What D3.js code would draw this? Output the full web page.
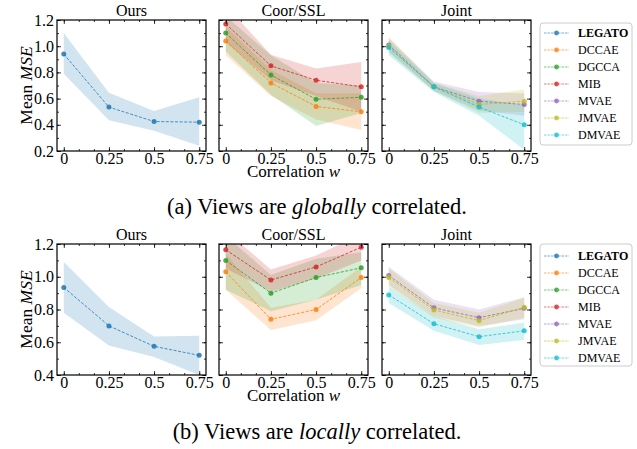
<!DOCTYPE html>
<html>
<head>
<meta charset="utf-8">
<script src="https://cdnjs.cloudflare.com/ajax/libs/d3/7.8.5/d3.min.js"></script>
<style>
  body { margin: 0; background: #fff; }
  svg { font-family: "Liberation Serif", "DejaVu Serif", serif; }
</style>
</head>
<body>
<div id="container"></div>
<script>
/**
 * DATA
 * */
const methods = ["LEGATO", "DCCAE", "DGCCA", "MIB", "MVAE", "JMVAE", "DMVAE"];
const methodColors = ["#1f77b4", "#ff7f0e", "#2ca02c", "#d62728", "#9467bd", "#bcbd22", "#17becf"];
const correlation = [0, 0.25, 0.5, 0.75];
const xTicks = [0, 0.25, 0.5, 0.75];
const xTickLabels = ["0", "0.25", "0.5", "0.75"];
const panelTitles = ["Ours", "Coor/SSL", "Joint"];
const panelMethods = [["LEGATO"], ["DCCAE", "DGCCA", "MIB"], ["MVAE", "JMVAE", "DMVAE"]];

// (a) globally correlated — rows follow `methods`
const globalMean = [
  [0.94, 0.535, 0.425, 0.42],
  [1.04, 0.72, 0.54, 0.50],
  [1.10, 0.78, 0.595, 0.61],
  [1.17, 0.85, 0.74, 0.69],
  [1.01, 0.69, 0.58, 0.555],
  [1.00, 0.69, 0.555, 0.58],
  [0.99, 0.69, 0.535, 0.40]
];
const globalLow = [
  [0.79, 0.435, 0.355, 0.24],
  [0.93, 0.62, 0.44, 0.36],
  [0.96, 0.63, 0.39, 0.49],
  [1.03, 0.74, 0.62, 0.50],
  [0.96, 0.66, 0.51, 0.47],
  [0.95, 0.66, 0.49, 0.50],
  [0.93, 0.65, 0.47, 0.21]
];
const globalHigh = [
  [1.10, 0.645, 0.505, 0.61],
  [1.15, 0.82, 0.64, 0.64],
  [1.23, 0.93, 0.72, 0.70],
  [1.31, 0.935, 0.83, 0.88],
  [1.06, 0.73, 0.65, 0.64],
  [1.07, 0.72, 0.62, 0.67],
  [1.04, 0.72, 0.60, 0.55]
];
const globalYTicks = [0.2, 0.4, 0.6, 0.8, 1.0, 1.2];

// (b) locally correlated
const localMean = [
  [0.935, 0.70, 0.575, 0.52],
  [1.03, 0.74, 0.80, 0.995],
  [1.10, 0.90, 0.995, 1.055],
  [1.165, 0.98, 1.06, 1.18],
  [1.007, 0.81, 0.75, 0.807],
  [0.996, 0.797, 0.732, 0.813],
  [0.889, 0.713, 0.634, 0.67]
];
const localLow = [
  [0.78, 0.58, 0.51, 0.40],
  [0.92, 0.675, 0.735, 0.93],
  [0.92, 0.79, 0.86, 0.95],
  [1.05, 0.91, 0.99, 1.10],
  [0.95, 0.76, 0.70, 0.74],
  [0.94, 0.75, 0.69, 0.75],
  [0.84, 0.67, 0.583, 0.614]
];
const localHigh = [
  [1.09, 0.815, 0.635, 0.64],
  [1.14, 0.81, 0.86, 1.06],
  [1.25, 1.01, 1.11, 1.15],
  [1.28, 1.045, 1.13, 1.26],
  [1.06, 0.86, 0.80, 0.875],
  [1.05, 0.84, 0.78, 0.87],
  [0.94, 0.76, 0.68, 0.72]
];
const localYTicks = [0.4, 0.6, 0.8, 1.0, 1.2];

/**
 * LAYOUT
 * */
const width = 637, height = 449;
const panelX = [57, 219, 382], panelW = 149, panelH = 131;
const rows = [
  { top: 20, domain: [0.2, 1.2], ticks: globalYTicks, mean: globalMean, low: globalLow, high: globalHigh,
    caption: ["(a) Views are ", "globally", " correlated."], capY: 214 },
  { top: 244, domain: [0.4, 1.2], ticks: localYTicks, mean: localMean, low: localLow, high: localHigh,
    caption: ["(b) Views are ", "locally", " correlated."], capY: 439 }
];

const svg = d3.select("#container").append("svg")
  .attr("width", width).attr("height", height);

const x = d3.scaleLinear().domain([-0.0375, 0.7875]).range([0, panelW]);

rows.forEach((row, ri) => {
  const y = d3.scaleLinear().domain(row.domain).range([panelH, 0]);
  const minorY = d3.range(row.domain[0], row.domain[1] + 1e-9, 0.1);
  const minorX = d3.range(0, 0.79, 0.25 / 3);

  panelTitles.forEach((title, pi) => {
    const g = svg.append("g").attr("transform", `translate(${panelX[pi]},${row.top})`);
    const clipId = `clip-${ri}-${pi}`;
    g.append("clipPath").attr("id", clipId)
      .append("rect").attr("width", panelW).attr("height", panelH);

    const plot = g.append("g").attr("clip-path", `url(#${clipId})`);
    const area = d3.area().x((d, i) => x(correlation[i])).y0(d => y(d[0])).y1(d => y(d[1]));
    const line = d3.line().x((d, i) => x(correlation[i])).y(d => y(d));

    panelMethods[pi].forEach(name => {
      const k = methods.indexOf(name);
      const band = correlation.map((c, i) => [row.low[k][i], row.high[k][i]]);
      plot.append("path").attr("d", area(band))
        .attr("fill", methodColors[k]).attr("fill-opacity", 0.2);
    });
    panelMethods[pi].forEach(name => {
      const k = methods.indexOf(name);
      plot.append("path").attr("d", line(row.mean[k]))
        .attr("fill", "none").attr("stroke", methodColors[k])
        .attr("stroke-opacity", 0.8).attr("stroke-width", 1)
        .attr("stroke-dasharray", "3,1.6");
      plot.selectAll(null).data(row.mean[k]).join("circle")
        .attr("cx", (d, i) => x(correlation[i])).attr("cy", d => y(d))
        .attr("r", 2.5).attr("fill", methodColors[k]).attr("fill-opacity", 0.85);
    });

    // axes: inward ticks on all sides
    g.append("g").attr("transform", `translate(0,${panelH})`)
      .call(d3.axisBottom(x).tickValues(xTicks).tickFormat((d, i) => xTickLabels[i]).tickSizeInner(-4).tickSizeOuter(0).tickPadding(1.5));
    g.append("g")
      .call(d3.axisTop(x).tickValues(xTicks).tickFormat("").tickSizeInner(-4).tickSizeOuter(0));
    const left = g.append("g")
      .call(d3.axisLeft(y).tickValues(row.ticks).tickFormat(d3.format(".1f")).tickSizeInner(-4).tickSizeOuter(0).tickPadding(3));
    g.append("g").attr("transform", `translate(${panelW},0)`)
      .call(d3.axisRight(y).tickValues(row.ticks).tickFormat("").tickSizeInner(-4).tickSizeOuter(0));
    g.append("g").attr("transform", `translate(0,${panelH})`)
      .call(d3.axisBottom(x).tickValues(minorX).tickFormat("").tickSizeInner(-2).tickSizeOuter(0));
    g.append("g")
      .call(d3.axisTop(x).tickValues(minorX).tickFormat("").tickSizeInner(-2).tickSizeOuter(0));
    g.append("g")
      .call(d3.axisLeft(y).tickValues(minorY).tickFormat("").tickSizeInner(-2).tickSizeOuter(0));
    g.append("g").attr("transform", `translate(${panelW},0)`)
      .call(d3.axisRight(y).tickValues(minorY).tickFormat("").tickSizeInner(-2).tickSizeOuter(0));
    g.selectAll(".domain").remove();
    g.selectAll(".tick line").attr("stroke", "#000").attr("stroke-width", 0.8);
    g.selectAll(".tick text").attr("font-size", 16).attr("fill", "#000")
      .attr("font-family", "Liberation Serif");
    if (pi > 0) left.selectAll("text").remove();

    g.append("rect").attr("width", panelW).attr("height", panelH)
      .attr("fill", "none").attr("stroke", "#000").attr("stroke-width", 1.2);

    g.append("text").attr("x", panelW / 2).attr("y", -4.5)
      .attr("text-anchor", "middle").attr("font-size", 16).text(title);
  });

  // y label
  const yl = svg.append("text")
    .attr("transform", `translate(32,${row.top + panelH / 2}) rotate(-90)`)
    .attr("text-anchor", "middle").attr("font-size", 17.5);
  yl.append("tspan").text("Mean ");
  yl.append("tspan").attr("font-style", "italic").text("MSE");

  // x label
  const xl = svg.append("text")
    .attr("x", panelX[1] + panelW / 2).attr("y", row.top + panelH + 25.5)
    .attr("text-anchor", "middle").attr("font-size", 17);
  xl.append("tspan").text("Correlation ");
  xl.append("tspan").attr("font-style", "italic").text("w");

  // legend
  const legTop = row.top + (ri === 0 ? 3 : 0);
  const leg = svg.append("g").attr("transform", `translate(540,${legTop})`);
  leg.append("rect").attr("width", 92).attr("height", 122).attr("rx", 3)
    .attr("fill", "#fff").attr("stroke", "#ccc").attr("stroke-width", 1);
  methods.forEach((name, k) => {
    const ly = 10 + k * 17 + (ri === 0 ? 0 : 2);
    leg.append("line").attr("x1", 4).attr("x2", 29).attr("y1", ly).attr("y2", ly)
      .attr("stroke", methodColors[k]).attr("stroke-opacity", 0.6)
      .attr("stroke-width", 1).attr("stroke-dasharray", "2.5,1");
    leg.append("circle").attr("cx", 16.5).attr("cy", ly).attr("r", 2.4)
      .attr("fill", methodColors[k]).attr("fill-opacity", 0.8);
    leg.append("text").attr("x", 38).attr("y", ly + 4.3).attr("font-size", 12)
      .attr("font-weight", k === 0 ? "bold" : "normal").text(name);
  });

  // caption
  const cap = svg.append("text").attr("x", 317).attr("y", row.capY)
    .attr("text-anchor", "middle").attr("font-size", 22.5);
  cap.append("tspan").text(row.caption[0]);
  cap.append("tspan").attr("font-style", "italic").text(row.caption[1]);
  cap.append("tspan").text(row.caption[2]);
});
</script>
</body>
</html>
